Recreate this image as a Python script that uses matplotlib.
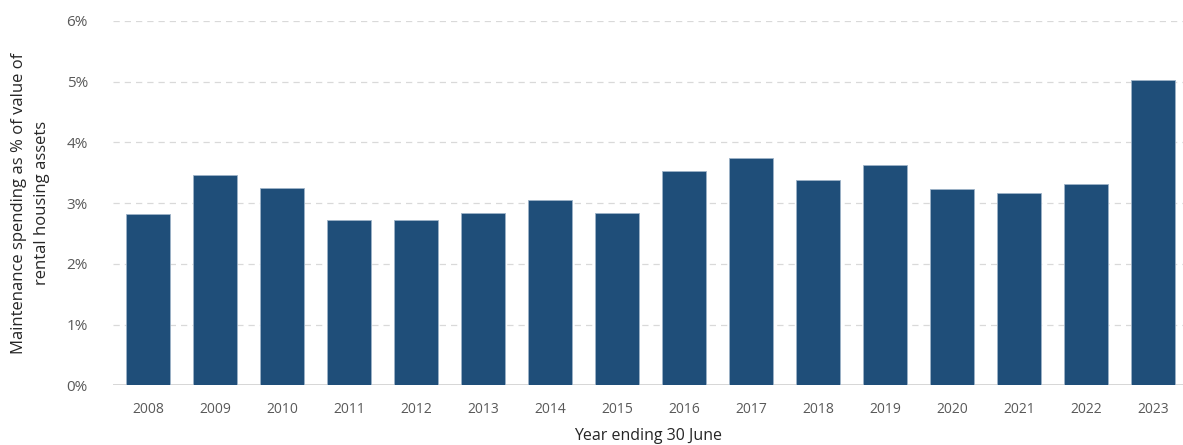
import numpy as np
import matplotlib.pyplot as plt
from matplotlib.ticker import PercentFormatter

years = ['2008', '2009', '2010', '2011', '2012', '2013', '2014', '2015',
         '2016', '2017', '2018', '2019', '2020', '2021', '2022', '2023']
spend_pct = [2.82, 3.46, 3.25, 2.72, 2.72, 2.83, 3.05, 2.83,
             3.53, 3.74, 3.38, 3.63, 3.24, 3.16, 3.32, 5.03]

plt.rcParams['font.family'] = ['Open Sans', 'DejaVu Sans']

fig = plt.figure(figsize=(11.83, 4.45), dpi=100)
ax = fig.add_axes([0.0955, 0.134, 0.9045, 0.819])

x = np.arange(len(years))
ax.bar(x, spend_pct, width=0.66, color='#1F4E79', edgecolor='#9DB3C8',
       linewidth=0.6, zorder=3)

ax.set_ylim(0, 6)
ax.set_xlim(-0.52, len(years) - 0.55)
ax.set_yticks(range(0, 7))
ax.yaxis.set_major_formatter(PercentFormatter(decimals=0))
ax.set_xticks(x)
ax.set_xticklabels(years)

ax.grid(axis='y', color='#D9D9D9', linestyle=(0, (5, 4)), linewidth=0.9, zorder=0)
ax.axhline(0, color='#D0D0D0', linewidth=1.2, zorder=2)
for s in ax.spines.values():
    s.set_visible(False)

ax.tick_params(axis='both', length=0, labelcolor='#595959', labelsize=10)
ax.tick_params(axis='y', pad=18, labelsize=11)
ax.tick_params(axis='x', pad=12)

ax.set_ylabel('Maintenance spending as % of value of\nrental housing assets',
              fontsize=12, color='#262626', labelpad=12, linespacing=1.55)
ax.set_xlabel('Year ending 30 June', fontsize=11.5, color='#262626', labelpad=8)

fig.savefig('out.png', dpi=100)
